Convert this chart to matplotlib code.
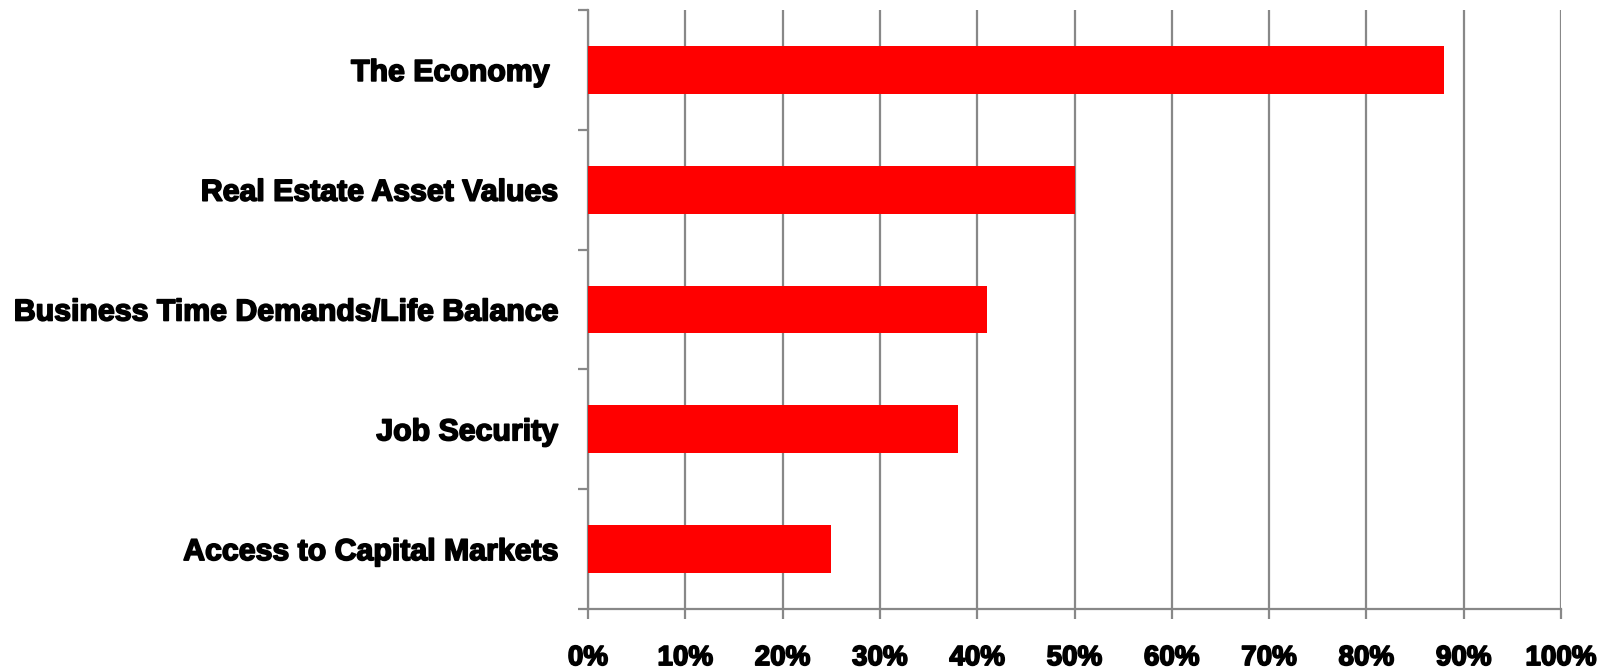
import matplotlib
matplotlib.use('Agg')
import matplotlib.pyplot as plt
import matplotlib.patheffects as pe
from matplotlib.ticker import FixedLocator, PercentFormatter

# データ
categories = ['The Economy ', 'Real Estate Asset Values', 'Business Time Demands/Life Balance',
              'Job Security', 'Access to Capital Markets']
values = [88, 50, 41, 38, 25]
x_ticks = [0, 10, 20, 30, 40, 50, 60, 70, 80, 90, 100]

grid_col = '#888888'
plt.rcParams['font.family'] = ['Liberation Sans', 'DejaVu Sans']

fig = plt.figure(figsize=(16.16, 6.71), dpi=100)
ax = fig.add_axes([588 / 1616, 1 - 609 / 671, (1561 - 588) / 1616, (609 - 10) / 671])

ypos = list(range(len(categories)))[::-1]
ax.barh(ypos, values, height=0.4, color='#ff0000', zorder=3)

ax.set_xlim(0, 100)
ax.set_ylim(-0.5, len(categories) - 0.5)
ax.set_xticks(x_ticks)
ax.xaxis.set_major_formatter(PercentFormatter(decimals=0))
ax.set_yticks(ypos)
ax.set_yticklabels(categories)
ax.yaxis.set_minor_locator(FixedLocator([i - 0.5 for i in range(len(categories) + 1)]))

ax.grid(axis='x', color=grid_col, linewidth=1.6, zorder=0)
for s in ['top', 'right']:
    ax.spines[s].set_visible(False)
for s in ['left', 'bottom']:
    ax.spines[s].set_color(grid_col)
    ax.spines[s].set_linewidth(1.6)

ax.tick_params(axis='x', length=7, width=1.6, color=grid_col, pad=19, labelsize=20)
ax.tick_params(axis='y', which='major', length=0, pad=22, labelsize=21.8)
ax.tick_params(axis='y', which='minor', length=7, width=1.6, color=grid_col)

# 太字をもう少し太く見せる
heavy = [pe.withStroke(linewidth=1.2, foreground='black')]
for lbl in ax.get_xticklabels() + ax.get_yticklabels():
    lbl.set_fontweight('bold')
    lbl.set_path_effects(heavy)

fig.savefig('out.png', dpi=100)
